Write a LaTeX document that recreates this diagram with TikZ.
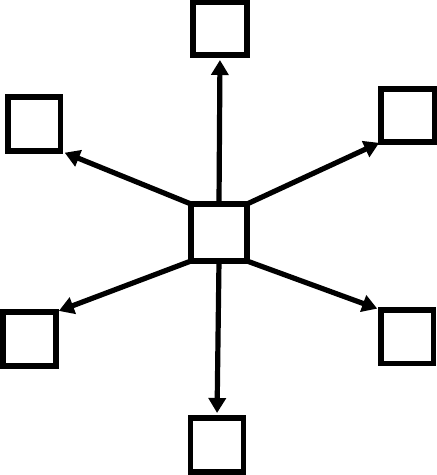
\documentclass[tikz,border=0pt]{standalone}
\usetikzlibrary{arrows.meta}
\begin{document}
\begin{tikzpicture}[x=1pt,y=-1pt,
  boxnode/.style={draw=black,line width=5.6pt,rectangle,inner sep=0pt,outer sep=0pt},
  conn/.style={line width=5.2pt,-{Triangle[length=15pt,width=17pt]}}]
\useasboundingbox (0,0) rectangle (437,475);
\node[boxnode,minimum width=56pt,minimum height=57pt] (c) at (219,232.5) {};
\node[boxnode,minimum width=54pt,minimum height=53pt] (t) at (220,28.5) {};
\node[boxnode,minimum width=52.5pt,minimum height=54pt] (tl) at (34.25,124) {};
\node[boxnode,minimum width=53.5pt,minimum height=53pt] (tr) at (407.75,115.5) {};
\node[boxnode,minimum width=53pt,minimum height=54pt] (bl) at (29.5,339) {};
\node[boxnode,minimum width=52.5pt,minimum height=53.5pt] (br) at (407.25,336.75) {};
\node[boxnode,minimum width=53pt,minimum height=54pt] (b) at (217,445) {};
\draw[conn,shorten >=5pt] (c.north) -- (t.south);
\draw[conn,shorten >=4.5pt] (c.north west) -- (tl.south east);
\draw[conn,shorten >=2pt] (c.north east) -- (tr.south west);
\draw[conn,shorten >=3pt] (c.south west) -- (bl.north east);
\draw[conn,shorten >=4pt] (c.south east) -- (br.north west);
\draw[conn,shorten >=5pt] (c.south) -- (b.north);
\end{tikzpicture}
\end{document}
